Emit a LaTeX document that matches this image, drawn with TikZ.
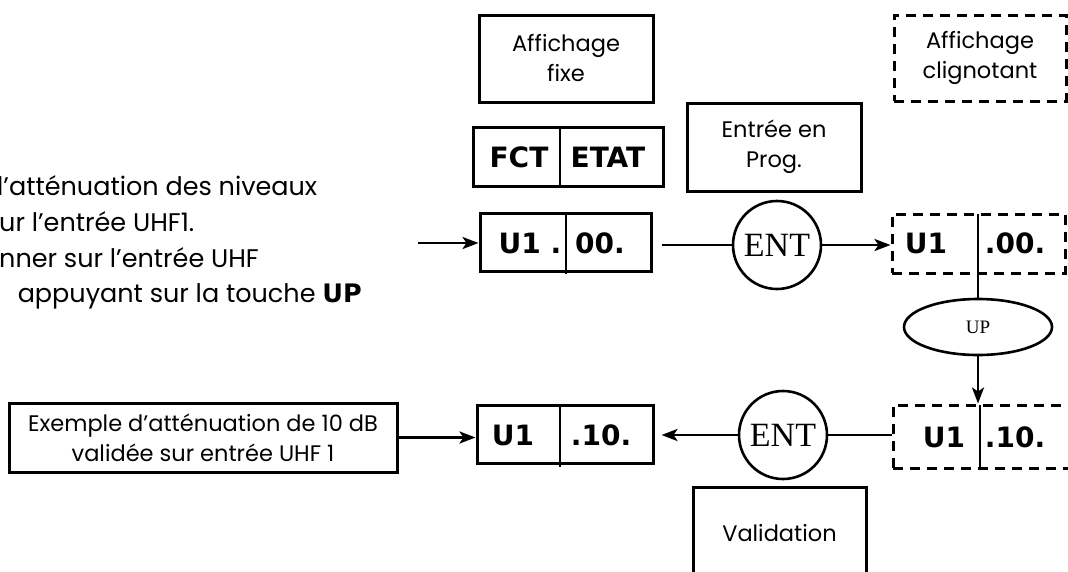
\documentclass[tikz,border=0pt]{standalone}
\usepackage{fontspec}
\setmainfont{Poppins}
\newfontfamily\serifent{Liberation Serif}
\newfontfamily\dispfont{DejaVu Sans}
\usetikzlibrary{arrows.meta,shapes.geometric}
\tikzset{
  box/.style={draw, line width=3pt, inner sep=0pt, align=center, font=\fontsize{22.5}{30}\selectfont},
  dbox/.style={box, dash pattern=on 10pt off 7pt},
  disp/.style={inner sep=0pt, font=\dispfont\bfseries\fontsize{28}{28}\selectfont},
  entc/.style={draw, circle, line width=2.6pt, minimum size=88pt, inner sep=0pt, font=\serifent\fontsize{34}{34}\selectfont},
  upe/.style={draw, ellipse, line width=2.6pt, minimum width=148pt, minimum height=56pt, inner sep=0pt, font=\serifent\fontsize{19}{19}\selectfont},
  ln/.style={line width=2.8pt},
  arr/.style={line width=2.8pt, -{Stealth[length=16pt,width=12pt,inset=4pt]}},
  divl/.style={line width=1.3pt},
  lefttxt/.style={inner sep=0pt, font=\fontsize{25.5}{25.5}\selectfont}
}
\begin{document}
\begin{tikzpicture}[x=1pt,y=-1pt]
\useasboundingbox (0,0) rectangle (1068,571);
\clip (0,0) rectangle (1068,571);

% left explanatory text (clipped at the left edge)
\node[lefttxt, anchor=base west] (l1) at (-3,195) {l'atténuation des niveaux};
\node[lefttxt, anchor=base west] (l2) at (-1,231) {ur l'entrée UHF1.};
\node[lefttxt, anchor=base west] (l3) at (-1,267) {nner sur l’entrée UHF};
\node[lefttxt, anchor=base east] (l4) at (362,302) {appuyant sur la touche {\dispfont\bfseries UP}};

% legend boxes
\node[box, minimum width=174pt, minimum height=87pt] (fixe) at (566,58.5) {Affichage\\fixe};
\node[dbox, minimum width=172pt, minimum height=86pt] (clign) at (980,58) {Affichage\\clignotant};
\node[box, minimum width=190pt, minimum height=59pt] (fctetat) at (568,156.5) {};
\draw[divl] (560,127) -- (560,186);
\node[disp] (fct) at (519,157) {FCT};
\node[disp] (etat) at (608,157) {ETAT};
\node[box, minimum width=174pt, minimum height=88pt] (prog) at (774,147) {Entrée en\\Prog.};

% upper row
\coordinate (in1) at (418,243);
\node[box, minimum width=171pt, minimum height=58pt] (u00) at (565.5,242) {};
\draw[divl] (566,213) -- (566,274);
\node[disp] (u00a) at (530,243) {U1 .};
\node[disp] (u00b) at (600,243) {00.};
\node[entc] (ent1) at (777,245) {ENT};
\node[dbox, minimum width=173pt, minimum height=59pt] (d00) at (978.5,243.5) {};
\draw[divl] (978,214) -- (978,273);
\coordinate (d00b) at (978,273);
\node[disp] (d00a) at (926,243) {U1};
\node[disp] (d00c) at (1015,243) {.00.};
\node[upe] (up) at (978,327) {UP};

% lower row
\node[dbox, minimum width=180pt, minimum height=63pt] (d10) at (983,436.5) {};
\draw[divl] (980,405) -- (980,468);
\node[disp] (d10a) at (944,437) {U1};
\node[disp] (d10c) at (1015,437) {.10.};
\node[entc] (ent2) at (783,435) {ENT};
\node[box, minimum width=176pt, minimum height=58pt] (u10) at (565,434) {};
\draw[divl] (560,405) -- (560,467);
\node[disp] (u10a) at (513,435) {U1};
\node[disp] (u10c) at (601,435) {.10.};
\node[box, minimum width=388pt, minimum height=69pt] (ex) at (203,437.5) {Exemple d’atténuation de 10 dB\\validée sur entrée UHF 1};
\node[box, minimum width=173pt, minimum height=92pt] (valid) at (779.5,533) {Validation};

% connectors
\draw[arr] (in1) -- (u00.west |- in1);
\draw[ln, shorten <=9pt] (u00.east |- ent1) -- (ent1.west);
\draw[arr] (ent1.east) -- (d00.west |- ent1);
\draw[ln] (d00b) -- (up.north);
\draw[arr] (up.south) -- (up.south |- d10.north);
\draw[ln] (d10.west |- ent2) -- (ent2.east);
\draw[arr, shorten >=7pt] (ent2.west) -- (u10.east |- ent2);
\draw[arr] (ex.east) -- (u10.west |- ex.east);
\end{tikzpicture}
\end{document}
